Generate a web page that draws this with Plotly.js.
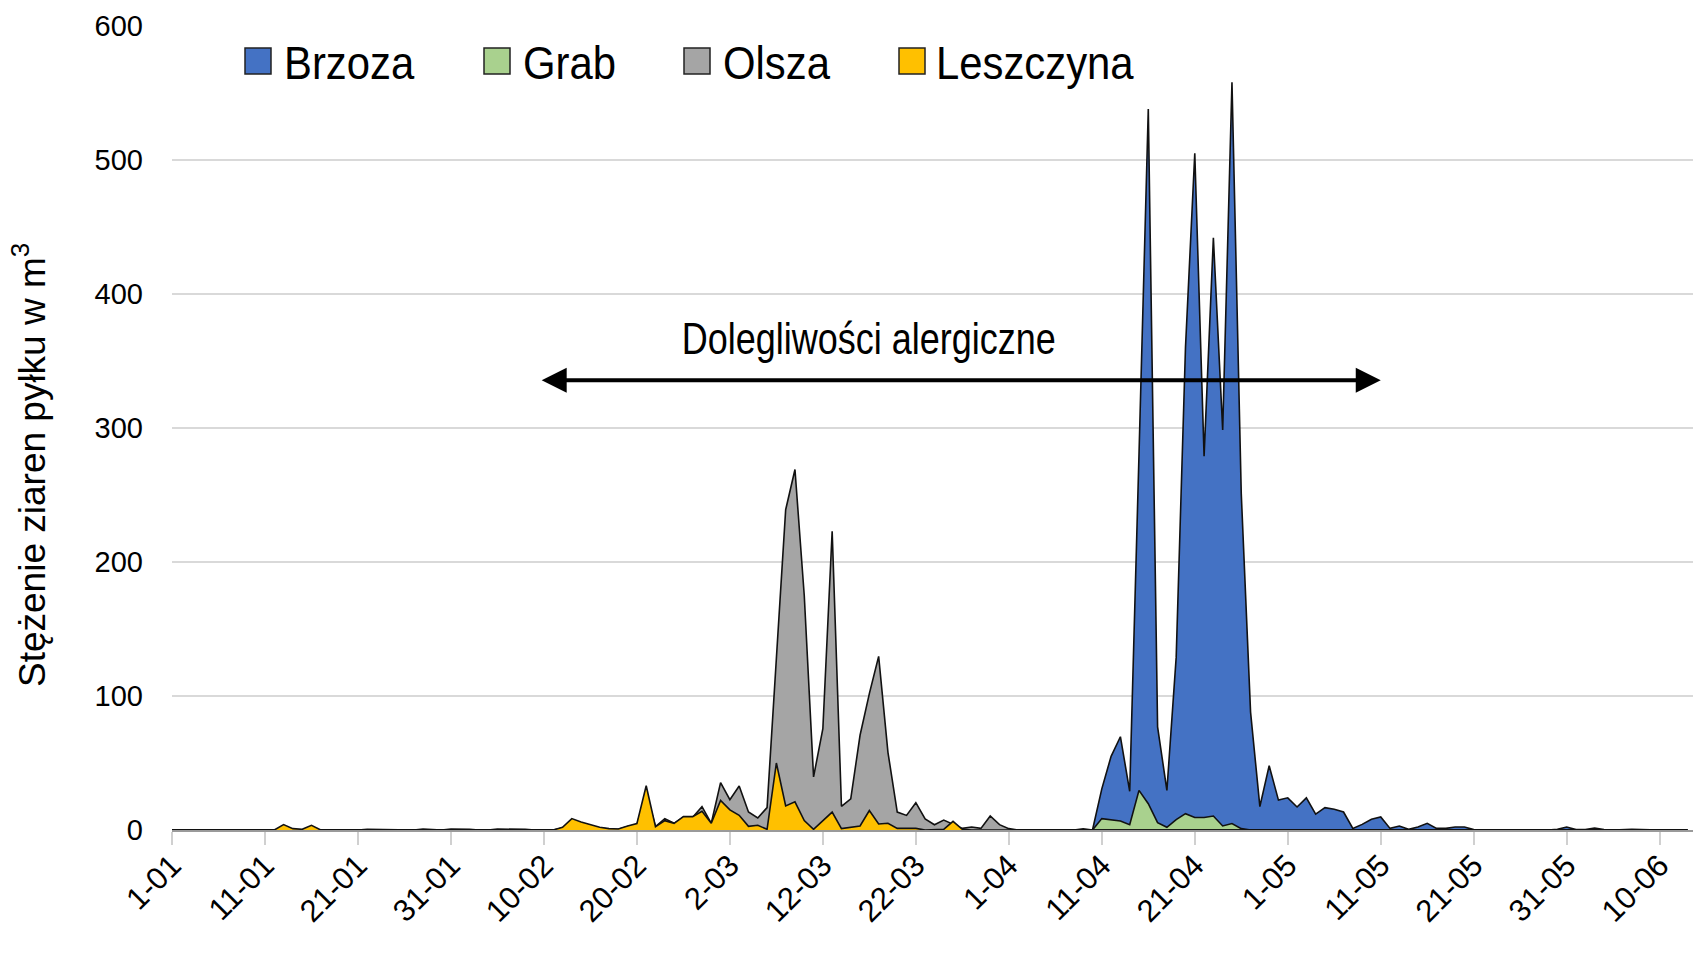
<!DOCTYPE html>
<html>
<head>
<meta charset="utf-8">
<script src="https://cdn.plot.ly/plotly-3.0.1.min.js"></script>
<style>
html,body{margin:0;padding:0;background:#fff;}
#chart{width:1693px;height:957px;}
</style>
</head>
<body>
<div id="chart"></div>
<script>
// ---------- DATA ----------
const startDate = '2023-01-01';
const nDays = 164;

const seriesNames = ['Brzoza', 'Grab', 'Olsza', 'Leszczyna'];

const brzoza = [
0,0,0,0,0,0,0,0,0,0,
0,0,0,0,0,0,0,0,0,0,
0,0,0,0,0,0,0,0,0,0,
0,0,0,0,0,0,0,0,0,0,
0,0,0,0,0,0,0,0,0,0,
0,0,0,0,0,0,0,0,0,0,
0,0,0,0,0,0,0,0,0,0,
0,0,0,0,0,0,0,0,0,0,
0,0,0,0,0,0,0,0,0,0,
0,0,0,0,0,0,0,0,0,0,
30.7,55,69.6,28.9,280,538,77,29.6,129,360,
505,279,442,298.5,558,251,88,17.5,48,22.3,
24,17.2,24,11.9,16.7,15.5,13.4,1.2,4.2,8,
9.7,1.2,3,0.5,2.2,5,1.2,1.2,2.2,2.2,
0.3,0.2,0.3,0.3,0.3,0.3,0,0,0,0.5,
2.2,0.3,0.3,1.5,0.3,0,0.3,0.5,0.3,0,
0,0,0,0
];

const grab = [
0,0,0,0,0,0,0,0,0,0,
0,0,0,0,0,0,0,0,0,0,
0,0,0,0,0,0,0,0,0,0,
0,0,0,0,0,0,0,0,0,0,
0,0,0,0,0,0,0,0,0,0,
0,0,0,0,0,0,0,0,0,0,
0,0,0,0,0,0,0,0,0,0,
0,0,0,0,0,0,0,0,0,0,
0,0,0,0,0,0,0,0,0,0,
0,0,0,0,0,0,0,0,0,0,
8.5,7.4,6.7,4,29.6,19.6,5.5,2,7.8,12.2,
9.3,9.3,10.4,3,4.8,1,0,0,0,0,
0,0,0,0,0,0,0,0,0,0,
0,0,0,0,0,0,0,0,0,0,
0,0,0,0,0,0,0,0,0,0,
0,0,0,0,0,0,0,0,0,0,
0,0,0,0
];

const olsza = [
0,0,0,0,0,0,0,0,0,0,
0,0,0,0,0,0,0,0,0,0,
0,0.6,0.5,0,0,0,0,0.7,0.5,0,
0.8,0.8,0.5,0,0,0.7,0.8,0.8,0.5,0,
0,0,1.5,7.5,5,3.5,1.5,0.8,0.5,2.5,
4,28,2.5,8.5,5,9.5,9.5,17.4,5,35.4,
22.6,32.8,13.4,9,16.7,128,239,269,175,39.6,
75.6,223,17.7,23.3,70.7,101.8,129.6,58,13.4,10.9,
20.4,8.2,3.9,7.4,4.5,1.2,2.2,1.2,10.5,4,
1,0,0,0,0.5,0,0.5,0,0.8,0,
0,0,0,0,0,0,0,0,0,0,
0,0,0,0,0,0,0,0,0,0,
0,0,0,0,0,0,0,0,0,0,
0,0,0,0,0,0,0,0,0,0,
0,0,0,0,0,0,0,0,0,0,
0,0,0,0,0,0,0,0,0,0,
0,0,0,0
];

const leszczyna = [
0,0,0,0,0,0,0,0,0,0,
0,0,4,1,0.5,3.5,0,0,0,0,
0,0,0,0,0,0,0,0,0,0,
0,0,0,0,0,0,0,0,0,0,
0,0,2,8.5,6,4,2,1,0.8,3,
4.8,33,2.5,7,5,10,10,14,5,22,
15,11,2.7,3.5,0.5,50,18,21,7,0.5,
7,13.4,1,2,3,14.5,4.5,5,1.2,1.2,
1.2,0,0,0.5,6.5,0.5,0,0,0,0,
0,0,0,0,0,0,0,0,0,0,
0,0,0,0,0,0,0,0,0,0,
0,0,0,0,0,0,0,0,0,0,
0,0,0,0,0,0,0,0,0,0,
0,0,0,0,0,0,0,0,0,0,
0,0,0,0,0,0,0,0,0,0,
0,0,0,0,0,0,0,0,0,0,
0,0,0,0
];

const tickDates = ['2023-01-01','2023-01-11','2023-01-21','2023-01-31','2023-02-10','2023-02-20',
  '2023-03-02','2023-03-12','2023-03-22','2023-04-01','2023-04-11','2023-04-21',
  '2023-05-01','2023-05-11','2023-05-21','2023-05-31','2023-06-10'];
const tickLabels = ['1-01','11-01','21-01','31-01','10-02','20-02','2-03','12-03','22-03',
  '1-04','11-04','21-04','1-05','11-05','21-05','31-05','10-06'];

const yTitle = 'Stężenie ziaren pyłku w m<sup>3</sup>';
const annotationText = 'Dolegliwości alergiczne';

// ---------- BUILD ----------
function pad(n){return (n<10?'0':'')+n;}
const dates = [];
(function(){
  const d0 = new Date(startDate + 'T00:00:00Z');
  for (let i = 0; i < nDays; i++) {
    const d = new Date(d0.getTime() + i*86400000);
    dates.push(d.getUTCFullYear()+'-'+pad(d.getUTCMonth()+1)+'-'+pad(d.getUTCDate()));
  }
})();

const colors = ['#4472C4', '#A9D18E', '#A5A5A5', '#FFC000'];
const seriesVals = [brzoza, grab, olsza, leszczyna];

const traces = seriesVals.map((v, i) => ({
  type: 'scatter',
  mode: 'lines',
  x: dates,
  y: v,
  name: seriesNames[i],
  fill: 'tozeroy',
  fillcolor: colors[i],
  line: {color: '#111111', width: 1.6},
  showlegend: false,
  hoverinfo: 'x+y+name'
}));

const W = 1693, H = 957, ML = 172, MR = 0, MT = 26, MB = 127;
const PW = W - ML - MR, PH = H - MT - MB;
function px(x){ return (x - ML) / PW; }
function py(y){ return (H - MB - y) / PH; }

const baseFont = '"Liberation Sans", Arial, sans-serif';

// custom legend
const legendSwatchX = [245, 484, 684, 899];
const legendTextX = [282, 521, 721, 934];
const shapes = [];
const annotations = [];
const condense = {};   // annotation index -> [horizontal scale, anchor]
seriesNames.forEach((n, i) => {
  shapes.push({
    type: 'rect', xref: 'paper', yref: 'paper',
    x0: px(legendSwatchX[i]), x1: px(legendSwatchX[i] + 26),
    y0: py(74), y1: py(48),
    fillcolor: colors[i], line: {color: '#222222', width: 1.5}
  });
  condense[annotations.length] = [0.89, 'left'];
  annotations.push({
    xref: 'paper', yref: 'paper', x: px(legendTextX[i]), y: py(62),
    xanchor: 'left', yanchor: 'middle', showarrow: false,
    text: n, font: {family: baseFont, size: 47, color: '#000'}
  });
});

// double-headed arrow
annotations.push({
  x: '2023-05-11', y: 335.6, ax: '2023-02-09 14:24', ay: 335.6,
  xref: 'x', yref: 'y', axref: 'x', ayref: 'y',
  text: '', showarrow: true, arrowside: 'end+start',
  arrowhead: 2, arrowsize: 1.25, arrowwidth: 4, arrowcolor: '#000000',
  standoff: 0, startstandoff: 0
});
condense[annotations.length] = [0.80, 'center'];
annotations.push({
  x: '2023-03-17', y: 367, xref: 'x', yref: 'y',
  text: annotationText, showarrow: false,
  xanchor: 'center', yanchor: 'middle',
  font: {family: baseFont, size: 45, color: '#000'}
});
// y axis title (placed as rotated text so it can sit where the reference has it)
annotations.push({
  xref: 'paper', yref: 'paper', x: px(30), y: py(465),
  xanchor: 'center', yanchor: 'middle', textangle: -90, showarrow: false,
  text: yTitle, font: {family: baseFont, size: 37, color: '#000'}
});

const layout = {
  width: W, height: H,
  margin: {l: ML, r: MR, t: MT, b: MB, pad: 0},
  paper_bgcolor: '#ffffff',
  plot_bgcolor: '#ffffff',
  showlegend: false,
  xaxis: {
    type: 'date',
    range: ['2023-01-01', '2023-06-13 14:00'],
    tickmode: 'array',
    tickvals: tickDates,
    ticktext: tickLabels,
    tickangle: -45,
    ticks: 'outside', ticklen: 13, tickwidth: 2, tickcolor: '#d0d0d0',
    ticklabelstandoff: -10,
    showgrid: false,
    showline: true, linecolor: '#9a9a9a', linewidth: 2,
    zeroline: false,
    tickfont: {family: baseFont, size: 31, color: '#000'}
  },
  yaxis: {
    range: [0, 600],
    tickmode: 'array',
    tickvals: [0,100,200,300,400,500,600],
    ticks: '',
    showgrid: true, gridcolor: '#d9d9d9', gridwidth: 1.5,
    zeroline: false, showline: false,
    ticklabelstandoff: 28,
    tickfont: {family: baseFont, size: 29, color: '#000'}
  },
  shapes: shapes,
  annotations: annotations
};

Plotly.newPlot('chart', traces, layout, {displayModeBar: false, staticPlot: true}).then(gd => {
  // narrow the horizontal lettering like the reference's condensed face
  gd.querySelectorAll('g.annotation').forEach(g => {
    const idx = +g.getAttribute('data-index');
    const c = condense[idx];
    if (!c) return;
    const t = g.querySelector('text.annotation-text');
    if (!t) return;
    const bb = t.getBBox();
    const s = c[0];
    const ax = c[1] === 'left' ? bb.x : bb.x + bb.width / 2;
    const prev = t.getAttribute('transform') || '';
    t.setAttribute('transform', 'translate(' + (ax * (1 - s)) + ',0) scale(' + s + ',1) ' + prev);
  });
});
</script>
</body>
</html>
